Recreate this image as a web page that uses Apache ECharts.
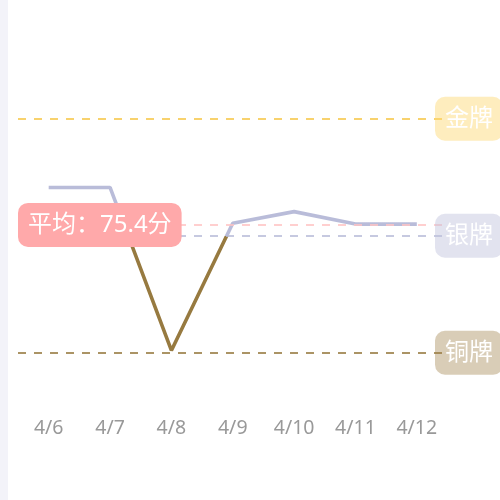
<!DOCTYPE html>
<html>
<head>
<meta charset="utf-8">
<script src="https://cdn.jsdelivr.net/npm/echarts@6/dist/echarts.min.js"></script>
<style>
html,body{margin:0;padding:0;background:#fff;}
#strip{position:absolute;left:0;top:0;width:8px;height:500px;background:#f3f3f9;z-index:2;}
#chart{position:absolute;left:0;top:0;width:500px;height:500px;}
</style>
</head>
<body>
<div id="chart"></div>
<div id="strip"></div>
<script>
var categories = ['4/6', '4/7', '4/8', '4/9', '4/10', '4/11', '4/12'];
var scores = [80.2, 80.2, 59.3, 75.6, 77.1, 75.5, 75.5];
var goldLevel = 89;
var silverLevel = 74;
var bronzeLevel = 59;
var averageScore = 75.4;
var levelNames = ['金牌', '银牌', '铜牌'];

var font = '"Noto Sans", "Noto Sans CJK SC", sans-serif';
function endLabel(bg) {
  return {
    show: true, position: 'end', distance: -12.5, align: 'left',
    formatter: '{b}', color: '#fff', fontSize: 24, fontFamily: font,
    backgroundColor: bg, padding: [10, 10], borderRadius: 10
  };
}
var chart = echarts.init(document.getElementById('chart'));
chart.setOption({
  animation: false,
  grid: { left: 18, right: 52.5, top: 33, bottom: 116 },
  xAxis: {
    type: 'category', data: categories, boundaryGap: true,
    axisLine: { show: false }, axisTick: { show: false },
    axisLabel: { color: '#999', fontSize: 19.5, margin: 35, fontFamily: font },
    splitLine: { show: false }
  },
  yAxis: { type: 'value', min: 55, max: 100, show: false, splitLine: { show: false } },
  visualMap: {
    show: false, type: 'piecewise', dimension: 1, seriesIndex: 0,
    pieces: [
      { lt: silverLevel, color: '#977a40' },
      { gte: silverLevel, lt: goldLevel, color: '#b9bcd9' },
      { gte: goldLevel, color: '#f7c84a' }
    ]
  },
  series: [{
    type: 'line', data: scores, symbol: 'none',
    lineStyle: { width: 3.6 },
    markLine: {
      silent: true, symbol: 'none',
      data: [
        { name: levelNames[0], yAxis: goldLevel, lineStyle: { color: '#f7c84a', type: [8, 8], width: 1.6 }, label: endLabel('rgba(252,214,110,0.45)') },
        { name: levelNames[1], yAxis: silverLevel, lineStyle: { color: '#b9bcd9', type: [8, 8], width: 1.6 }, label: endLabel('rgba(190,194,220,0.45)') },
        { name: levelNames[2], yAxis: bronzeLevel, lineStyle: { color: '#977a40', type: [8, 8], width: 1.6 }, label: endLabel('rgba(160,130,75,0.4)') },
        { name: '平均', yAxis: averageScore, lineStyle: { color: '#ffc4c4', type: [8, 8], width: 1.6 },
          label: { show: true, position: 'start', distance: 0, align: 'left',
            formatter: function () { return '平均：' + averageScore + '分'; },
            color: '#fff', fontSize: 24, fontFamily: font, backgroundColor: '#ffa9aa',
            padding: [10, 10], borderRadius: 10 } }
      ]
    }
  }]
});
</script>
</body>
</html>
